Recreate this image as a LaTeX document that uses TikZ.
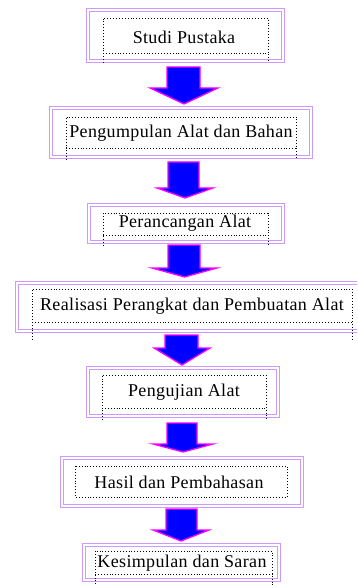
\documentclass[tikz,border=0pt]{standalone}
\usepackage{fontspec}
\setmainfont{Liberation Serif}
\newfontfamily\lblfont[LetterSpace=2]{Liberation Serif}
\definecolor{lav}{RGB}{204,153,255}
\definecolor{arrblue}{RGB}{0,0,255}
\definecolor{arrmag}{RGB}{255,0,255}
\tikzset{
  outerbox/.style={draw=lav, double=white, line width=1.1pt, double distance=1.6pt},
  dotline/.style={draw=black, dotted, line width=0.9pt},
  lbl/.style={font=\lblfont\fontsize{18}{20}\selectfont, inner sep=0pt},
  blockarrow/.style={fill=arrblue, draw=arrmag, line width=1.3pt, line join=miter},
}
\newcommand{\boxouter}[5]{\draw[outerbox] (#2,#3) rectangle (#4,#5); \coordinate (#1) at ({(#2+#4)/2},#3);}
\newcommand{\boxinner}[5]{\draw[dotline] (#1,#5) -- (#1,#2) -- (#3,#2) -- (#3,#5); \draw[dotline] (#1,#4) -- (#3,#4);}
\newcommand{\blockarr}[7]{\draw[blockarrow] (#1,#3) -- (#2,#3) -- (#2,#4) -- (#6,#4) -- ({(#5+#6)/2},#7) -- (#5,#4) -- (#1,#4) -- cycle;}
\begin{document}
\begin{tikzpicture}[x=1pt,y=-1pt]
\useasboundingbox (0,0) rectangle (357,585);
\clip (0,0) rectangle (357,585);
% Box 1
\boxouter{b1}{88}{10}{283}{61}
\boxinner{103}{18}{268}{53}{63}
\node[lbl] (t1) at (184,37) {Studi Pustaka};
% Box 2
\boxouter{b2}{51}{108}{311}{157}
\boxinner{66}{117}{296}{148}{160}
\node[lbl] (t2) at (181,133) {Pengumpulan Alat dan Bahan};
% Box 3
\boxouter{b3}{89}{205}{283}{242}
\boxinner{103}{213}{268}{235}{246}
\node[lbl] (t3) at (185,223) {Perancangan Alat};
% Box 4
\boxouter{b4}{17}{283}{362}{331}
\boxinner{32}{289}{352}{322}{340}
\node[lbl] (t4) at (192,306) {Realisasi Perangkat dan Pembuatan Alat};
% Box 5
\boxouter{b5}{88}{368}{278}{416}
\boxinner{102}{375}{266}{408}{420}
\node[lbl] (t5) at (184,392) {Pengujian Alat};
% Box 6
\boxouter{b6}{62}{458}{302}{506}
\draw[dotline] (75,466) rectangle (287,497);
\node[lbl] (t6) at (179,482) {Hasil dan Pembahasan};
% Box 7
\boxouter{b7}{84}{545}{279}{580}
\boxinner{95}{551}{272}{574}{590}
\node[lbl] (t7) at (182,563) {Kesimpulan dan Saran};
% Arrows
\blockarr{167}{200}{67}{88}{150}{218}{104}
\blockarr{168}{199}{162}{188}{157}{213}{198}
\blockarr{168}{200}{245}{268}{152}{217}{277}
\blockarr{165}{198}{335}{348}{154}{210}{365}
\blockarr{167}{197}{423}{444}{153}{213}{452}
\blockarr{166}{197}{509}{530}{153}{209}{541}
\end{tikzpicture}
\end{document}
